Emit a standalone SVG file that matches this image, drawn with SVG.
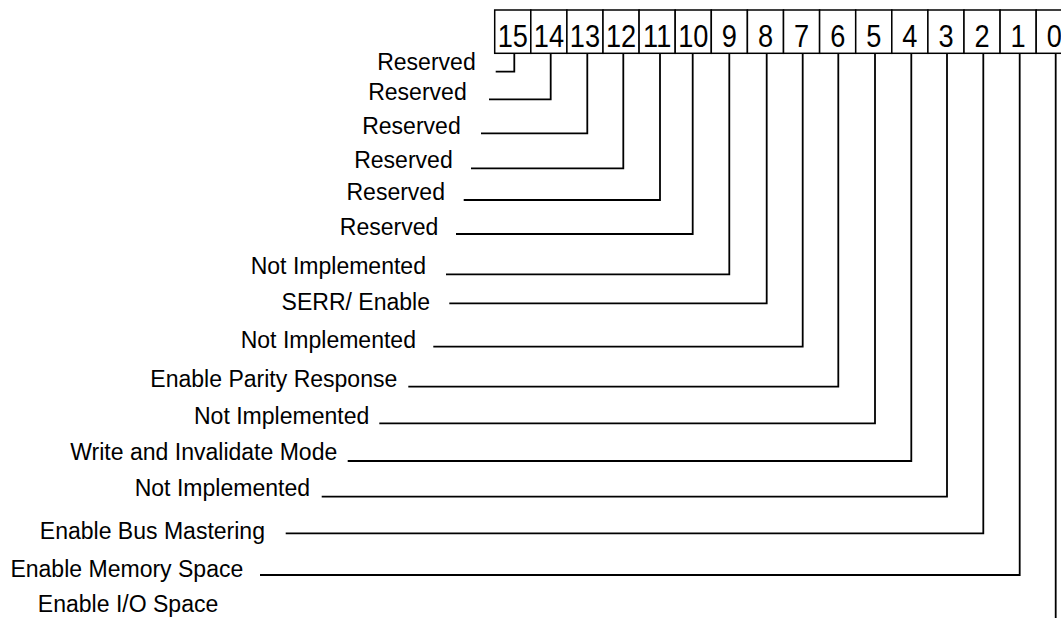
<svg xmlns="http://www.w3.org/2000/svg" width="1061" height="618" viewBox="0 0 1061 618">
<style>
.bg{fill:#fff}
.box{fill:#fff;stroke:#000;stroke-width:1.5}
.num{font-family:"Liberation Sans",Arial,sans-serif;font-size:32px;fill:#000;text-anchor:middle}
.lbl{font-family:"Liberation Sans",Arial,sans-serif;font-size:24.5px;fill:#000;text-anchor:end}
.ln{fill:none;stroke:#000;stroke-width:1.8}
</style>
<rect class="bg" x="0" y="0" width="1061" height="618"/>
<g id="register">
<rect class="box" x="494.7" y="10" width="36.1" height="43.3"/>
<rect class="box" x="530.8" y="10" width="36.1" height="43.3"/>
<rect class="box" x="566.9" y="10" width="36.1" height="43.3"/>
<rect class="box" x="603" y="10" width="36.1" height="43.3"/>
<rect class="box" x="639.1" y="10" width="36.1" height="43.3"/>
<rect class="box" x="675.2" y="10" width="36.1" height="43.3"/>
<rect class="box" x="711.3" y="10" width="36.1" height="43.3"/>
<rect class="box" x="747.4" y="10" width="36.1" height="43.3"/>
<rect class="box" x="783.5" y="10" width="36.1" height="43.3"/>
<rect class="box" x="819.6" y="10" width="36.1" height="43.3"/>
<rect class="box" x="855.7" y="10" width="36.1" height="43.3"/>
<rect class="box" x="891.8" y="10" width="36.1" height="43.3"/>
<rect class="box" x="927.9" y="10" width="36.1" height="43.3"/>
<rect class="box" x="964" y="10" width="36.1" height="43.3"/>
<rect class="box" x="1000.1" y="10" width="36.1" height="43.3"/>
<rect class="box" x="1036.2" y="10" width="36.1" height="43.3"/>
<g transform="scale(0.85,1)">
<text class="num" x="603.29" y="46.7">15</text>
<text class="num" x="645.76" y="46.7">14</text>
<text class="num" x="688.24" y="46.7">13</text>
<text class="num" x="730.71" y="46.7">12</text>
<text class="num" x="773.18" y="46.7">11</text>
<text class="num" x="815.65" y="46.7">10</text>
<text class="num" x="858.12" y="46.7">9</text>
<text class="num" x="900.59" y="46.7">8</text>
<text class="num" x="943.06" y="46.7">7</text>
<text class="num" x="985.53" y="46.7">6</text>
<text class="num" x="1028" y="46.7">5</text>
<text class="num" x="1070.47" y="46.7">4</text>
<text class="num" x="1112.94" y="46.7">3</text>
<text class="num" x="1155.41" y="46.7">2</text>
<text class="num" x="1197.88" y="46.7">1</text>
<text class="num" x="1240.35" y="46.7">0</text>
</g>
</g>
<g id="connectors">
<polyline class="ln" points="514.3,53.3 514.3,71.7 495.7,71.7"/>
<polyline class="ln" points="550.7,53.3 550.7,99.3 489,99.3"/>
<polyline class="ln" points="587.3,53.3 587.3,133.3 481,133.3"/>
<polyline class="ln" points="623.3,53.3 623.3,168.3 471,168.3"/>
<polyline class="ln" points="660,53.3 660,200 463.7,200"/>
<polyline class="ln" points="692.7,53.3 692.7,234 456,234"/>
<polyline class="ln" points="729.3,53.3 729.3,274.3 446,274.3"/>
<polyline class="ln" points="766.7,53.3 766.7,303.3 449.3,303.3"/>
<polyline class="ln" points="802.7,53.3 802.7,346.7 433.3,346.7"/>
<polyline class="ln" points="838.3,53.3 838.3,386.7 408.3,386.7"/>
<polyline class="ln" points="875,53.3 875,423.3 379.3,423.3"/>
<polyline class="ln" points="911.3,53.3 911.3,461 347.7,461"/>
<polyline class="ln" points="947,53.3 947,496.7 321.7,496.7"/>
<polyline class="ln" points="983.3,53.3 983.3,533.3 285.7,533.3"/>
<polyline class="ln" points="1019.7,53.3 1019.7,575 260,575"/>
<polyline class="ln" points="1055.7,53.3 1055.7,618"/>
</g>
<g transform="scale(0.94,1)">
<g id="bit15"><text class="lbl" x="506.06" y="70">Reserved</text></g>
<g id="bit14"><text class="lbl" x="496.49" y="100">Reserved</text></g>
<g id="bit13"><text class="lbl" x="490.11" y="134">Reserved</text></g>
<g id="bit12"><text class="lbl" x="481.6" y="168">Reserved</text></g>
<g id="bit11"><text class="lbl" x="473.4" y="200">Reserved</text></g>
<g id="bit10"><text class="lbl" x="466.28" y="235">Reserved</text></g>
<g id="bit9"><text class="lbl" x="453.19" y="274">Not Implemented</text></g>
<g id="bit8"><text class="lbl" x="457.45" y="310">SERR/ Enable</text></g>
<g id="bit7"><text class="lbl" x="442.55" y="348">Not Implemented</text></g>
<g id="bit6"><text class="lbl" x="422.66" y="387">Enable Parity Response</text></g>
<g id="bit5"><text class="lbl" x="392.87" y="424">Not Implemented</text></g>
<g id="bit4"><text class="lbl" x="358.83" y="460">Write and Invalidate Mode</text></g>
<g id="bit3"><text class="lbl" x="329.79" y="496">Not Implemented</text></g>
<g id="bit2"><text class="lbl" x="281.91" y="539">Enable Bus Mastering</text></g>
<g id="bit1"><text class="lbl" x="258.83" y="577">Enable Memory Space</text></g>
<g id="bit0"><text class="lbl" x="232.23" y="612">Enable I/O Space</text></g>
</g>
</svg>
